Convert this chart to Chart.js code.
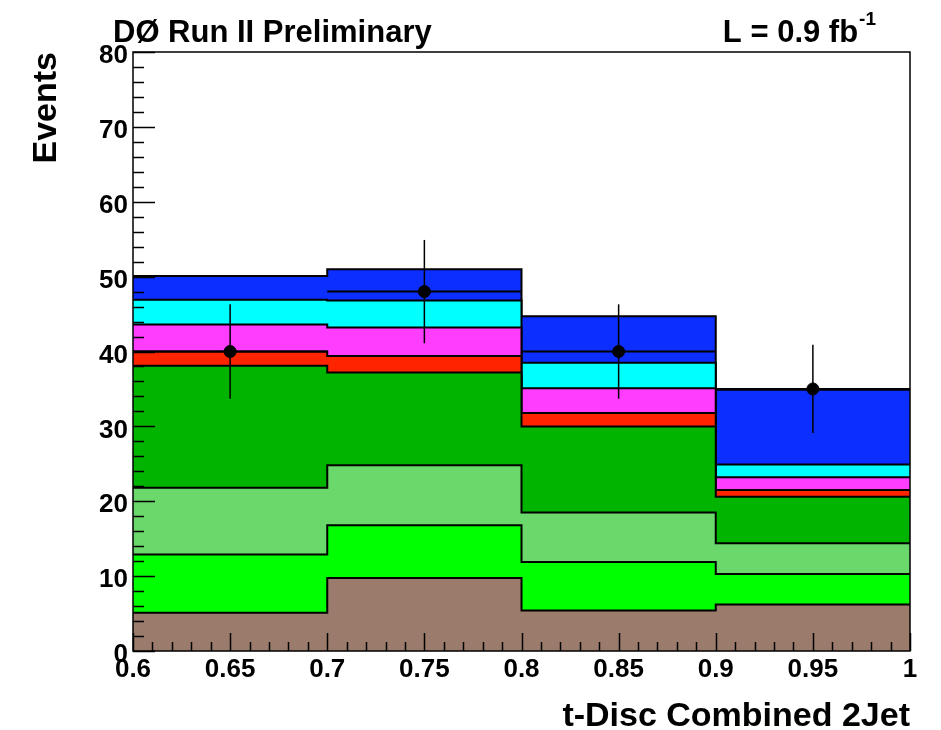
<!DOCTYPE html>
<html>
<head>
<meta charset="utf-8">
<script src="https://cdn.jsdelivr.net/npm/chart.js"></script>
<style>
    html, body { margin: 0; padding: 0; background: #fff; }
    #wrap { width: 941px; height: 730px; }
</style>
</head>
<body>
<div id="wrap"><canvas id="c"></canvas></div>
<script>
// -----------------------------------------------------------
//  Data
// -----------------------------------------------------------
var binEdges = [0.6, 0.7, 0.8, 0.9, 1.0];
var binCentres = [0.65, 0.75, 0.85, 0.95];

// per-sample contributions per bin, stack bottom first
var brownVals      = [5.1, 9.75, 5.4, 6.2];
var greenVals      = [7.8, 7.05, 6.5, 4.1];
var lightGreenVals = [8.9, 8.0, 6.6, 4.1];
var darkGreenVals  = [16.3, 12.4, 11.5, 6.2];
var redVals        = [1.9, 2.2, 1.8, 0.9];
var magentaVals    = [3.6, 3.8, 3.3, 1.7];
var cyanVals       = [3.3, 3.6, 3.4, 1.7];
var blueVals       = [3.2, 4.2, 6.2, 10.0];

var dataVals = [40, 48, 40, 35];
var dataErrs = [6.3, 6.9, 6.3, 5.9];

var xTickLabels = [0.6, 0.65, 0.7, 0.75, 0.8, 0.85, 0.9, 0.95, 1.0];
var yTickLabels = [0, 10, 20, 30, 40, 50, 60, 70, 80];

var FONT = "'Liberation Sans', Arial, Helvetica, sans-serif";

// -----------------------------------------------------------
//  Build cumulative step outlines
// -----------------------------------------------------------
var samples = [
    { vals: brownVals,      color: "#9b7b6b" },
    { vals: greenVals,      color: "#00ff00" },
    { vals: lightGreenVals, color: "#6ad86a" },
    { vals: darkGreenVals,  color: "#00b400" },
    { vals: redVals,        color: "#ff2400" },
    { vals: magentaVals,    color: "#ff3dff" },
    { vals: cyanVals,       color: "#00ffff" },
    { vals: blueVals,       color: "#0c2eff" }
];

var running = [0, 0, 0, 0];
var stackSets = samples.map(function (s) {
    running = running.map(function (r, i) { return r + s.vals[i]; });
    var cum = running.slice();
    return {
        type: "line",
        data: binEdges.map(function (x, j) {
            return { x: x, y: cum[Math.min(j, cum.length - 1)] };
        }),
        stepped: true,
        fill: "origin",
        backgroundColor: s.color,
        borderColor: "#000",
        borderWidth: 2,
        pointRadius: 0,
        tension: 0
    };
});

var dataSet = {
    type: "scatter",
    data: binCentres.map(function (x, i) { return { x: x, y: dataVals[i] }; }),
    backgroundColor: "#000",
    borderColor: "#000",
    pointRadius: 6,
    pointHoverRadius: 6
};

// -----------------------------------------------------------
//  Plugins: error bars, inward ticks + frame, header text
// -----------------------------------------------------------
var errorBars = {
    id: "errorBars",
    afterDatasetsDraw: function (chart) {
        var xs = chart.scales.x, ys = chart.scales.y, ctx = chart.ctx;
        ctx.save();
        ctx.strokeStyle = "#000";
        dataVals.forEach(function (v, i) {
            var px = xs.getPixelForValue(binCentres[i]);
            var py = ys.getPixelForValue(v);
            ctx.lineWidth = 1.5;
            ctx.beginPath();
            ctx.moveTo(px, ys.getPixelForValue(v + dataErrs[i]));
            ctx.lineTo(px, ys.getPixelForValue(v - dataErrs[i]));
            ctx.stroke();
            ctx.lineWidth = 2;
            ctx.beginPath();
            ctx.moveTo(xs.getPixelForValue(binEdges[i]), py);
            ctx.lineTo(xs.getPixelForValue(binEdges[i + 1]), py);
            ctx.stroke();
        });
        ctx.restore();
    }
};

var frameTicks = {
    id: "frameTicks",
    afterDraw: function (chart) {
        var xs = chart.scales.x, ys = chart.scales.y, ctx = chart.ctx;
        var a = chart.chartArea;
        ctx.save();
        ctx.strokeStyle = "#000";
        ctx.lineWidth = 1.5;
        ctx.beginPath();
        var i, p, len;
        for (i = 0; i <= 40; i++) {
            p = Math.round(ys.getPixelForValue(i * 2)) + 0.5;
            len = (i % 5 === 0) ? 22 : 11;
            ctx.moveTo(a.left, p);
            ctx.lineTo(a.left + len, p);
        }
        for (i = 0; i <= 40; i++) {
            p = Math.round(xs.getPixelForValue(0.6 + i * 0.01)) + 0.5;
            len = (i % 5 === 0) ? 18 : 9;
            ctx.moveTo(p, a.bottom);
            ctx.lineTo(p, a.bottom - len);
        }
        ctx.stroke();
        ctx.strokeRect(a.left, a.top, a.right - a.left, a.bottom - a.top);

        // header
        ctx.fillStyle = "#000";
        ctx.textBaseline = "alphabetic";
        ctx.textAlign = "left";
        ctx.font = "bold 31px " + FONT;
        ctx.fillText("DØ Run II Preliminary", 113, 42);
        var main = "L = 0.9 fb";
        var mw = ctx.measureText(main).width;
        ctx.font = "bold 19px " + FONT;
        var sw = ctx.measureText("-1").width;
        var x0 = 880 - mw - sw - 1;
        ctx.font = "bold 31px " + FONT;
        ctx.fillText(main, x0 - 4, 42);
        ctx.font = "bold 19px " + FONT;
        ctx.fillText("-1", x0 + mw - 3, 25);
        ctx.restore();
    }
};

// -----------------------------------------------------------
//  Chart
// -----------------------------------------------------------
new Chart(document.getElementById("c"), {
    data: { datasets: [dataSet].concat(stackSets) },
    options: {
        responsive: true,
        maintainAspectRatio: false,
        animation: false,
        events: [],
        layout: { padding: { top: 52, right: 31, left: 0, bottom: 0 } },
        plugins: {
            legend: { display: false },
            tooltip: { enabled: false },
            title: { display: false }
        },
        scales: {
            x: {
                type: "linear",
                min: 0.6,
                max: 1.0,
                grid: { display: false, drawTicks: false, tickLength: 0 },
                border: { display: false },
                afterBuildTicks: function (s) {
                    s.ticks = xTickLabels.map(function (v) { return { value: v }; });
                },
                afterFit: function (s) { s.height = 79; },
                ticks: {
                    autoSkip: false,
                    maxRotation: 0,
                    padding: 3,
                    color: "#000",
                    font: { family: FONT, size: 26, weight: "bold" },
                    callback: function (v) { return String(parseFloat(Number(v).toFixed(2))); }
                },
                title: {
                    display: true,
                    text: "t-Disc Combined 2Jet",
                    align: "end",
                    color: "#000",
                    padding: { top: 0, bottom: 0 },
                    font: { family: FONT, size: 34, weight: "bold", lineHeight: 0.8 }
                }
            },
            y: {
                min: 0,
                max: 80,
                grid: { display: false, drawTicks: false, tickLength: 0 },
                border: { display: false },
                afterBuildTicks: function (s) {
                    s.ticks = yTickLabels.map(function (v) { return { value: v }; });
                },
                afterFit: function (s) { s.width = 133; },
                ticks: {
                    padding: 5,
                    labelOffset: 4,
                    color: "#000",
                    font: { family: FONT, size: 26, weight: "bold" }
                },
                title: {
                    display: true,
                    text: "Events",
                    align: "end",
                    color: "#000",
                    padding: { top: 30 },
                    font: { family: FONT, size: 34, weight: "bold", lineHeight: 1 }
                }
            }
        }
    },
    plugins: [errorBars, frameTicks]
});
</script>
</body>
</html>
